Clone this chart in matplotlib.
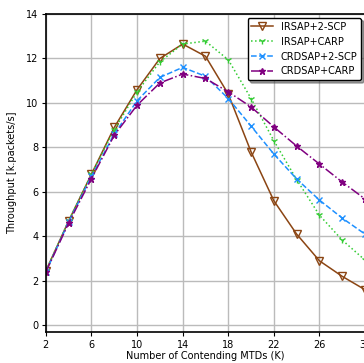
import matplotlib
matplotlib.use('Agg')
import matplotlib.pyplot as plt

# number of contending MTDs
K = [2, 4, 6, 8, 10, 12, 14, 16, 18, 20, 22, 24, 26, 28, 30]

irsap_2scp = [2.45, 4.7, 6.8, 8.9, 10.6, 12.0, 12.65, 12.1, 10.4, 7.8, 5.6, 4.1, 2.9, 2.2, 1.6]
irsap_carp = [2.45, 4.7, 6.8, 8.8, 10.5, 11.85, 12.65, 12.78, 11.94, 10.2, 8.3, 6.55, 4.95, 3.83, 2.93]
crdsap_2scp = [2.4, 4.65, 6.7, 8.6, 10.1, 11.15, 11.6, 11.2, 10.2, 8.96, 7.7, 6.58, 5.63, 4.82, 4.1]
crdsap_carp = [2.4, 4.6, 6.6, 8.55, 9.9, 10.9, 11.3, 11.1, 10.5, 9.82, 8.92, 8.06, 7.25, 6.44, 5.68]

fig = plt.figure(figsize=(3.64, 3.63), dpi=100)
ax = fig.add_axes([0.126, 0.0854, 0.877, 0.876])

ax.plot(K, irsap_2scp, '-', color='#8B4513', marker='v', mfc='none', ms=6, lw=1.1, label='IRSAP+2-SCP')
ax.plot(K, irsap_carp, ':', color='#33CC33', marker='1', ms=5, lw=1.1, label='IRSAP+CARP')
ax.plot(K, crdsap_2scp, '--', color='#1E90FF', marker='x', ms=5, lw=1.1, label='CRDSAP+2-SCP')
ax.plot(K, crdsap_carp, '-.', color='purple', marker='*', ms=5, lw=1.1, label='CRDSAP+CARP')

ax.set_xlim(2, 30)
ax.set_ylim(-0.3, 14)
ax.set_xticks(range(2, 31, 4))
ax.set_yticks(range(0, 15, 2))
ax.tick_params(labelsize=7, length=3, pad=2.5)
ax.grid(True, color='#bbbbbb', lw=1)
for s in ax.spines.values():
    s.set_linewidth(1.2)

ax.set_xlabel('Number of Contending MTDs (K)', fontsize=7, labelpad=1)
ax.set_ylabel('Throughput [k.packets/s]', fontsize=7, labelpad=6)
ax.legend(loc='upper right', fontsize=7, shadow=True, framealpha=1, edgecolor='black',
          borderaxespad=0.4, handlelength=2.2)

fig.savefig('out.png', dpi=100)
